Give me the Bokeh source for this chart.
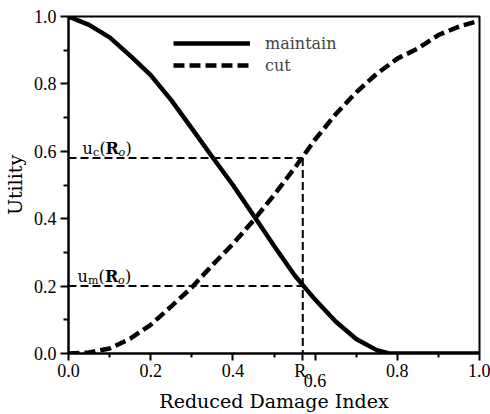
from bokeh.plotting import figure
from bokeh.models import (Range1d, FixedTicker, Legend, LegendItem, Label,
                          PrintfTickFormatter, LinearAxis)
from bokeh.embed import file_html
from bokeh.resources import INLINE

# ---- data ----
rdi = [0.0, 0.05, 0.10, 0.15, 0.20, 0.25, 0.30, 0.35, 0.40, 0.45, 0.50,
       0.55, 0.60, 0.65, 0.70, 0.75, 0.78, 0.85, 0.90, 0.95, 1.0]
maintain = [1.0, 0.975, 0.938, 0.884, 0.826, 0.752, 0.668, 0.583, 0.50, 0.41, 0.32,
            0.232, 0.16, 0.095, 0.043, 0.01, 0.0, 0.0, 0.0, 0.0, 0.0]
cut_x = [0.0, 0.05, 0.10, 0.15, 0.20, 0.25, 0.30, 0.35, 0.40, 0.45, 0.50,
         0.55, 0.60, 0.65, 0.70, 0.75, 0.80, 0.85, 0.90, 0.95, 1.0]
cut = [0.0, 0.003, 0.015, 0.044, 0.085, 0.14, 0.196, 0.262, 0.325, 0.395, 0.47,
       0.55, 0.635, 0.71, 0.775, 0.83, 0.875, 0.905, 0.945, 0.97, 0.988]

R0 = 0.57
uc_R0 = 0.58
um_R0 = 0.20

ticks = [0.0, 0.2, 0.4, 0.6, 0.8, 1.0]
minor = [0.1, 0.3, 0.5, 0.7, 0.9]
x_labels = {0.0: "0.0", 0.2: "0.2", 0.4: "0.4", R0: "R\u2092", 0.6: "", 0.8: "0.8", 1.0: "1.0"}

SERIF = "DejaVu Serif"
TICKF = "Liberation Serif"

p = figure(width=490, height=414, output_backend="svg", toolbar_location=None,
           x_range=Range1d(0, 1), y_range=Range1d(0, 1),
           min_border_left=68, min_border_right=11, min_border_top=16, min_border_bottom=60)
p.grid.visible = False
p.outline_line_color = "black"
p.outline_line_width = 2
p.outline_line_alpha = 1
p.background_fill_color = "white"
p.border_fill_color = "white"

# reference dashed lines
p.segment(x0=[0, 0], y0=[uc_R0, um_R0], x1=[R0, R0], y1=[uc_R0, um_R0],
          line_color="black", line_width=2, line_dash="8 4")
p.segment(x0=[R0], y0=[uc_R0], x1=[R0], y1=[0], line_color="black", line_width=2, line_dash="8 4")

r_m = p.line(rdi, maintain, line_color="black", line_width=4.5, line_join="round")
r_c = p.line(cut_x, cut, line_color="black", line_width=4.5, line_dash="11 5")

legend = Legend(items=[LegendItem(label="maintain", renderers=[r_m]),
                       LegendItem(label="cut", renderers=[r_c])],
                location=(105, 278), padding=0, margin=0, spacing=2,
                glyph_width=77, glyph_height=20, label_height=20, label_standoff=15,
                label_text_font=SERIF, label_text_font_size="16px",
                border_line_color=None, background_fill_alpha=0)
p.add_layout(legend, "center")

def style_axis(ax):
    ax.axis_line_width = 2
    ax.major_tick_line_width = 2
    ax.minor_tick_line_width = 2
    ax.major_tick_in = 0
    ax.minor_tick_in = 0
    ax.major_label_text_font = TICKF
    ax.major_label_text_font_size = "18px"
    ax.major_label_text_color = "black"
    ax.axis_label_text_font = SERIF
    ax.axis_label_text_font_style = "normal"
    ax.axis_label_text_color = "black"
    ax.axis_label_text_font_size = "19px"

# y axis
ya = p.yaxis[0]
style_axis(ya)
ya.ticker = FixedTicker(ticks=ticks, minor_ticks=minor)
ya.formatter = PrintfTickFormatter(format="%.1f")
ya.major_tick_out = 8
ya.minor_tick_out = 5
ya.major_label_standoff = 4
ya.axis_label = "Utility"
ya.axis_label_standoff = 5

# x axis (line, ticks, labels incl. R0 marker)
xa = p.xaxis[0]
style_axis(xa)
xa.ticker = FixedTicker(ticks=sorted(ticks + [R0]), minor_ticks=minor)
xa.formatter = PrintfTickFormatter(format="%.1f")
xa.major_label_overrides = x_labels
xa.major_tick_out = 7
xa.minor_tick_out = 4
xa.major_label_standoff = 0

# second x axis: the lowered "0.6" label and the axis title
xa2 = LinearAxis(ticker=FixedTicker(ticks=[0.6], minor_ticks=[]),
                 formatter=PrintfTickFormatter(format="%.1f"))
style_axis(xa2)
xa2.axis_line_color = None
xa2.major_tick_line_color = None
xa2.minor_tick_line_color = None
xa2.major_tick_out = 0
xa2.minor_tick_out = 0
xa2.major_label_standoff = -10
xa2.axis_label = "Reduced Damage Index"
xa2.axis_label_standoff = 0
p.add_layout(xa2, "below")

def compose(x, y, parts):
    for txt, size, style, dx, dy in parts:
        p.add_layout(Label(x=x, y=y, x_offset=dx, y_offset=dy, text=txt,
                           text_font=SERIF, text_font_size=size, text_font_style=style,
                           text_align="left", text_baseline="alphabetic", text_color="black"))

compose(0, uc_R0, [("u", "16px", "normal", 14, 10), ("c", "11px", "normal", 24.5, 6),
                   ("(", "16px", "normal", 31, 10), ("R", "16px", "bold", 37, 10),
                   ("o", "11px", "italic", 50, 6), (")", "16px", "normal", 57, 10)])
compose(0, um_R0, [("u", "16px", "normal", 9, 10), ("m", "11px", "normal", 19.5, 6),
                   ("(", "16px", "normal", 30, 10), ("R", "16px", "bold", 36.5, 10),
                   ("o", "11px", "italic", 49.5, 6), (")", "16px", "normal", 56.5, 10)])

open("out.html", "w").write(file_html(p, INLINE))
